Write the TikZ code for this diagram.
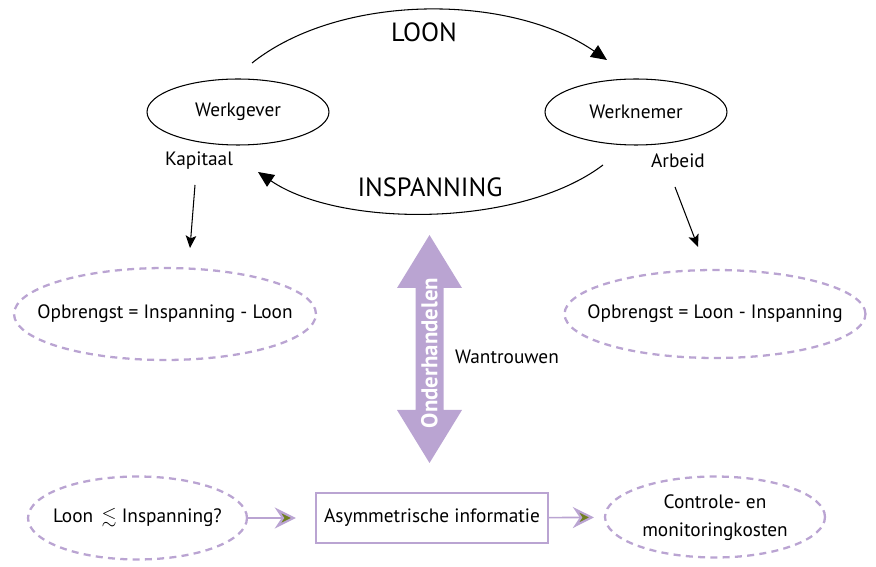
\documentclass[tikz,border=0pt]{standalone}
\usepackage{amssymb}
\usepackage{fontspec}
\setmainfont{PT Sans}
\usetikzlibrary{shapes.geometric,arrows.meta}
\definecolor{lila}{RGB}{186,164,210}
\definecolor{oliv}{RGB}{112,128,32}
% text that does not widen the ellipse round it
\newcommand{\nowide}[1]{\makebox[0pt]{#1}}
\begin{document}
\begin{tikzpicture}[x=0.02cm, y=-0.02cm,
        font=\fontsize{11}{13}\selectfont,
        actor/.style={ellipse, draw, line width=0.6pt, minimum width=3.64cm,
            minimum height=1.32cm},
        result/.style={ellipse, draw=lila, line width=1.3pt, inner sep=0pt,
            dash pattern=on 4pt off 3pt},
        infobox/.style={draw=lila, line width=1.4pt, minimum width=4.64cm,
            minimum height=1.0cm},
        big/.style={font=\fontsize{15}{17}\selectfont},
        arr/.style={-{Stealth[length=7pt,width=6pt,inset=1.5pt]}, line width=0.6pt},
        flow/.style={-{Stealth[length=12pt,width=12pt,inset=4pt,fill=oliv,
            line width=1.2pt]}, draw=lila, line width=0.9pt}]
    \useasboundingbox (0,0) rectangle (876,567);

    % werkgever en werknemer
    \node[actor] (wg) at (238,112) {\raisebox{-1.5pt}{Werkgever}};
    \node[actor] (wn) at (636,112) {\raisebox{-1.5pt}{Werknemer}};
    \node (kap) at (199,161) {Kapitaal};
    \node (arb) at (678,161) {Arbeid};

    % loon en inspanning
    \coordinate (loonA) at (252,63);
    \coordinate (loonB) at (607,60);
    \coordinate (inspA) at (603,165);
    \coordinate (inspB) at (258,172);
    \draw[-{Triangle[length=9pt,width=8pt]}, line width=0.6pt]
        (loonA) .. controls (340,-7) and (510,-7) .. (loonB);
    \draw[-{Triangle[length=9pt,width=8pt]}, line width=0.6pt]
        (inspA) .. controls (520,228) and (340,228) .. (inspB);
    \node[big] (loon) at (424,32) {LOON};
    \node[big] (insp) at (430,187) {INSPANNING};

    % opbrengst
    \node[result, minimum width=6.04cm, minimum height=1.84cm] (opL) at (165,314)
        {\nowide{Opbrengst = Inspanning - Loon}};
    \node[result, minimum width=6.02cm, minimum height=1.76cm] (opR) at (715,314)
        {\nowide{Opbrengst = Loon - Inspanning}};
    \coordinate (kapA) at (195,185);
    \coordinate (kapB) at (190,248);
    \coordinate (arbA) at (675,187);
    \coordinate (arbB) at (698,247);
    \draw[arr] (kapA) -- (kapB);
    \draw[arr] (arbA) -- (arbB);

    % onderhandelen
    \fill[lila] (429.5,235) -- (462,288) -- (443.5,288) -- (443.5,410) -- (462,410)
        -- (429.5,463) -- (397,410) -- (415.5,410) -- (415.5,288) -- (397,288) -- cycle;
    \node[rotate=90, text=white, font=\fontsize{13}{15}\selectfont\bfseries]
        (onder) at (429.5,353) {Onderhandelen};
    \node (wantr) at (507,357) {Wantrouwen};

    % asymmetrische informatie
    \node[result, minimum width=4.38cm, minimum height=1.66cm] (lq) at (137.5,518)
        {\nowide{Loon\, $\lesssim$ Inspanning?}};
    \node[infobox] (asym) at (432,518) {Asymmetrische informatie};
    \node[result, minimum width=4.4cm, minimum height=1.62cm] (ctrl) at (715,517)
        {\nowide{\renewcommand{\arraystretch}{1.25}\begin{tabular}{@{}c@{}}
            Controle- en\\monitoringkosten\end{tabular}}};
    \draw[flow, shorten >=0.38cm] (lq) -- (asym);
    \draw[flow, shorten >=0.2cm] (asym) -- (ctrl);
\end{tikzpicture}
\end{document}
